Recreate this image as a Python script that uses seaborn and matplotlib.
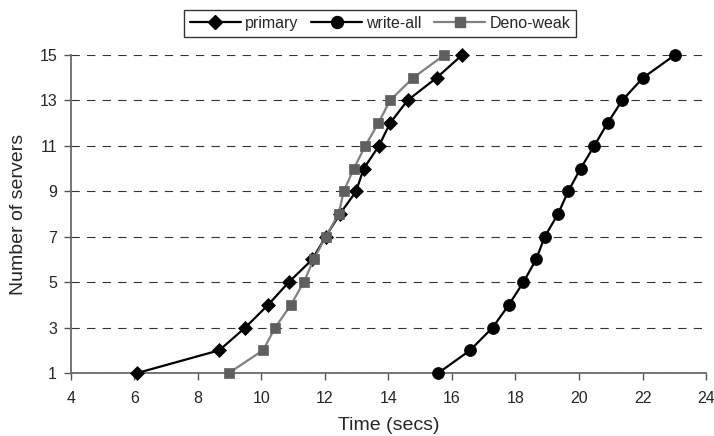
import matplotlib
matplotlib.use("Agg")
import matplotlib.pyplot as plt
from matplotlib.lines import Line2D
import seaborn as sns

# Number of servers on the vertical axis
servers = list(range(1, 16))

# Completion time (secs) for each protocol
primary = [6.09, 8.67, 9.49, 10.21, 10.86, 11.60, 12.02, 12.47, 12.98,
           13.22, 13.70, 14.05, 14.60, 15.52, 16.32]
write_all = [15.57, 16.57, 17.28, 17.79, 18.25, 18.65, 18.92, 19.34, 19.66,
             20.05, 20.48, 20.90, 21.36, 22.02, 23.02]
deno_weak = [8.97, 10.05, 10.43, 10.93, 11.33, 11.65, 12.02, 12.43, 12.59,
             12.91, 13.27, 13.68, 14.05, 14.78, 15.76]

series_names = ["primary", "write-all", "Deno-weak"]
x_ticks = [4, 6, 8, 10, 12, 14, 16, 18, 20, 22, 24]
y_ticks = [1, 3, 5, 7, 9, 11, 13, 15]

sns.set_theme(style="white")
plt.rcParams["font.family"] = ["Liberation Sans", "DejaVu Sans"]

fig = plt.figure(figsize=(7.14, 4.36), dpi=100)
ax = fig.add_axes([0.0994, 0.1445, 0.8894, 0.7294])

styles = {
    "primary": dict(color="black", marker="D", markersize=6.8,
                    mfc="black", mec="black"),
    "write-all": dict(color="black", marker="o", markersize=8.6,
                      mfc="black", mec="black"),
    "Deno-weak": dict(color="#808080", marker="s", markersize=7.0,
                      mfc="#5f5f5f", mec="#5f5f5f"),
}
values = {"primary": primary, "write-all": write_all, "Deno-weak": deno_weak}

for name in series_names:
    st = styles[name]
    sns.lineplot(x=values[name], y=servers, ax=ax, sort=False,
                 color=st["color"], linewidth=1.6, legend=False,
                 marker=st["marker"], markersize=st["markersize"],
                 markerfacecolor=st["mfc"], markeredgecolor=st["mec"],
                 markeredgewidth=0.5, zorder=3, clip_on=False)

ax.set_xlim(4, 24)
ax.set_ylim(1, 15)
ax.set_xticks(x_ticks)
ax.set_yticks(y_ticks)
ax.tick_params(axis="both", labelsize=11.5, length=5, width=1,
               color="#555555", direction="out",
               bottom=True, left=True)
ax.tick_params(axis="x", pad=8)
ax.tick_params(axis="y", pad=5)

ax.grid(axis="y", color="#333333", linewidth=0.8,
        linestyle=(0, (7.5, 6.5)))
ax.grid(axis="x", visible=False)
for side in ("top", "right"):
    ax.spines[side].set_visible(False)
for side in ("left", "bottom"):
    ax.spines[side].set_color("#6a6a6a")
    ax.spines[side].set_linewidth(1.3)

ax.set_xlabel("Time (secs)", fontsize=14, labelpad=8)
ax.set_ylabel("Number of servers", fontsize=14, labelpad=9)

handles = []
for name in series_names:
    st = styles[name]
    handles.append(Line2D([], [], color=st["color"], linewidth=1.6,
                          marker=st["marker"], markersize=st["markersize"],
                          markerfacecolor=st["mfc"], markeredgecolor=st["mec"]))
leg = fig.legend(handles, series_names, loc="center",
                 bbox_to_anchor=(380 / 714, 1 - 23.5 / 436), ncol=3,
                 fontsize=11.5, frameon=True, fancybox=False,
                 handlelength=3.2, handletextpad=0.25, columnspacing=0.8,
                 borderpad=0.35, borderaxespad=0)
leg.get_frame().set_edgecolor("black")
leg.get_frame().set_linewidth(1.0)

fig.savefig("out.png", dpi=100)
